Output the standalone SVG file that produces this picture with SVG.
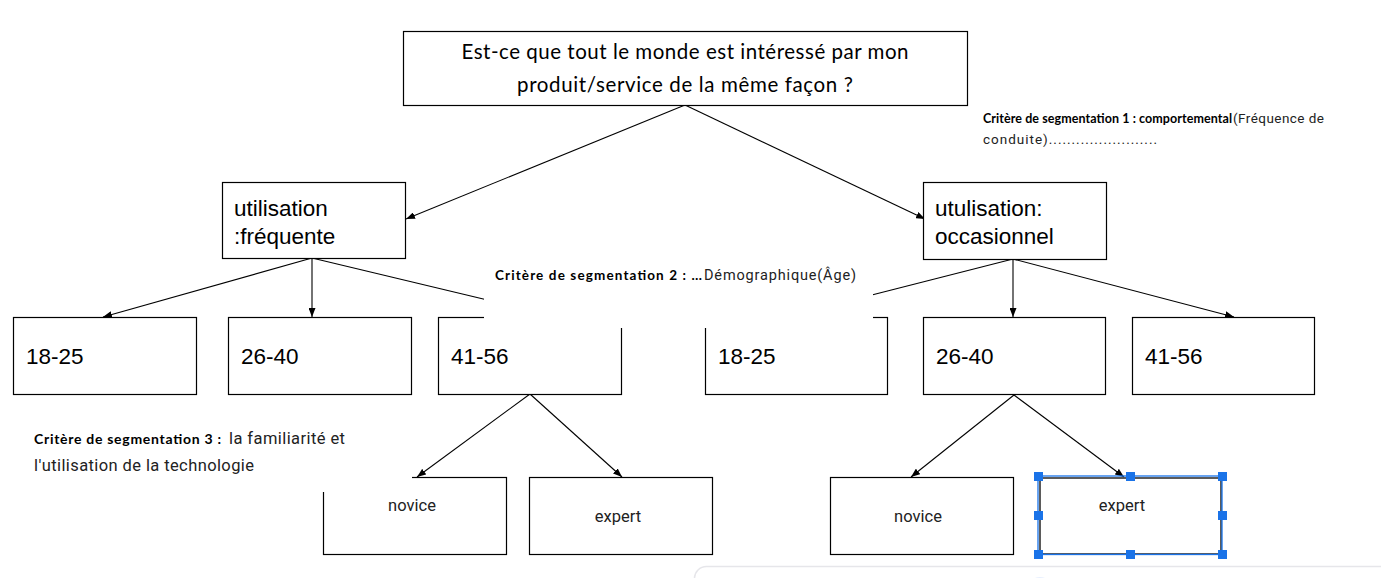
<svg xmlns="http://www.w3.org/2000/svg" width="1381" height="578" viewBox="0 0 1381 578">
<style>
.box{fill:#fff;stroke:#000;stroke-width:1.2}
.ln{stroke:#000;stroke-width:1.1;fill:none}
.arr{marker-end:url(#ah)}
.cal{font-family:Lato,"Open Sans",sans-serif;fill:#000}
.ar{font-family:"Liberation Sans",Arial,sans-serif;font-size:22.5px;fill:#000}
.ro{font-family:Roboto,"Noto Sans",sans-serif;fill:#222}
.b{font-weight:bold}
.h{fill:#1a73e8}
</style>
<defs>
<marker id="ah" markerUnits="userSpaceOnUse" markerWidth="9" markerHeight="7" refX="9" refY="3.5" orient="auto"><path d="M0,0 L9,3.5 L0,7 z" fill="#000"/></marker>
</defs>
<rect width="1381" height="578" fill="#fff"/>

<g id="connectors">
<line class="ln arr" x1="685" y1="105" x2="406" y2="219"/>
<line class="ln arr" x1="685" y1="105" x2="925" y2="219"/>
<line class="ln arr" x1="312" y1="258" x2="103" y2="317"/>
<line class="ln arr" x1="312" y1="258" x2="312" y2="317"/>
<line class="ln" x1="312" y1="258" x2="500" y2="303"/>
<line class="ln" x1="1013" y1="259" x2="860" y2="298"/>
<line class="ln arr" x1="1013" y1="259" x2="1013" y2="317"/>
<line class="ln arr" x1="1013" y1="259" x2="1234" y2="317"/>
<line class="ln arr" x1="530" y1="394" x2="417" y2="477"/>
<line class="ln arr" x1="530" y1="394" x2="622" y2="477"/>
<line class="ln arr" x1="1014" y1="395" x2="911" y2="477"/>
<line class="ln arr" x1="1014" y1="395" x2="1124" y2="477"/>
</g>

<g id="n-root"><rect class="box" x="403.5" y="31.5" width="564" height="74"/>
<text class="cal" font-size="20.5" x="685" y="59" text-anchor="middle" textLength="447">Est-ce que tout le monde est intéressé par mon</text>
<text class="cal" font-size="20.5" x="685" y="92" text-anchor="middle" textLength="336">produit/service de la même façon ?</text></g>

<g id="n-util-freq"><rect class="box" x="222.5" y="182.5" width="183" height="76"/>
<text class="ar" x="234" y="216">utilisation</text><text class="ar" x="234" y="244">:fréquente</text></g>
<g id="n-util-occ"><rect class="box" x="923.5" y="182.5" width="183" height="77"/>
<text class="ar" x="935" y="216">utulisation:</text><text class="ar" x="935" y="244">occasionnel</text></g>

<g id="n-l-1825"><rect class="box" x="13.5" y="317.5" width="183" height="77"/><text class="ar" x="26" y="364">18-25</text></g>
<g id="n-l-2640"><rect class="box" x="228.5" y="317.5" width="183" height="77"/><text class="ar" x="241" y="364">26-40</text></g>
<g id="n-l-4156"><rect class="box" x="438.5" y="317.5" width="183" height="77"/><text class="ar" x="451" y="364">41-56</text></g>
<g id="n-r-1825"><rect class="box" x="705.5" y="317.5" width="182" height="77"/><text class="ar" x="718" y="364">18-25</text></g>
<g id="n-r-2640"><rect class="box" x="923.5" y="317.5" width="182" height="77"/><text class="ar" x="936" y="364">26-40</text></g>
<g id="n-r-4156"><rect class="box" x="1132.5" y="317.5" width="182" height="77"/><text class="ar" x="1145" y="364">41-56</text></g>

<g id="n-l-novice"><rect class="box" x="323.5" y="477.5" width="183" height="77"/><text class="ro" font-size="16.5" x="412" y="511" text-anchor="middle">novice</text></g>
<g id="n-l-expert"><rect class="box" x="529.5" y="477.5" width="183" height="77"/><text class="ro" font-size="16.5" x="618" y="522" text-anchor="middle">expert</text></g>
<g id="n-r-novice"><rect class="box" x="830.5" y="477.5" width="183" height="77"/><text class="ro" font-size="16.5" x="918" y="522" text-anchor="middle">novice</text></g>
<g id="n-r-expert"><rect class="box" x="1040" y="478" width="181" height="76" style="stroke:#333;stroke-width:1.6"/><text class="ro" font-size="16.5" x="1122" y="511" text-anchor="middle">expert</text>
<rect x="1038" y="476" width="184" height="78.5" fill="none" stroke="#1a73e8" stroke-width="1.3"/>
<rect class="h" x="1034" y="472" width="9" height="9"/><rect class="h" x="1126" y="472" width="9" height="9"/><rect class="h" x="1218" y="472" width="9" height="9"/>
<rect class="h" x="1034" y="511" width="9" height="9"/><rect class="h" x="1218" y="511" width="9" height="9"/>
<rect class="h" x="1034" y="550" width="9" height="9"/><rect class="h" x="1126" y="550" width="9" height="9"/><rect class="h" x="1218" y="550" width="9" height="9"/></g>

<g id="label-1">
<text class="cal b" font-size="12.5" x="983" y="123" textLength="249">Critère de segmentation 1 : comportemental</text>
<text class="ro" font-size="13.5" x="1233" y="123" textLength="91">(Fréquence de</text>
<text class="ro" font-size="13.5" x="983" y="144" textLength="174">conduite)........................</text>
</g>

<g id="label-2">
<rect x="484" y="256" width="389" height="72" fill="#fff"/>
<text class="cal b" font-size="13.5" x="495" y="280" textLength="207">Critère de segmentation 2 : …</text>
<text class="ro" font-size="14.5" x="704" y="280" textLength="152">Démographique(Âge)</text>
</g>

<g id="label-3">
<rect x="20" y="420" width="392" height="72" fill="#fff"/>
<text class="cal b" font-size="14" x="34" y="444" textLength="187">Critère de segmentation 3 :</text>
<text class="ro" font-size="16.5" x="229" y="444" textLength="116">la familiarité et</text>
<text class="ro" font-size="16.5" x="34" y="471" textLength="220">l'utilisation de la technologie</text>
</g>

<g id="panel">
<rect x="694.5" y="566.5" width="700" height="40" rx="12" fill="#fff" stroke="#e6e6ea" stroke-width="1.5"/>
<circle cx="1040" cy="590" r="13" fill="#e8f0fe"/>
</g>
</svg>
